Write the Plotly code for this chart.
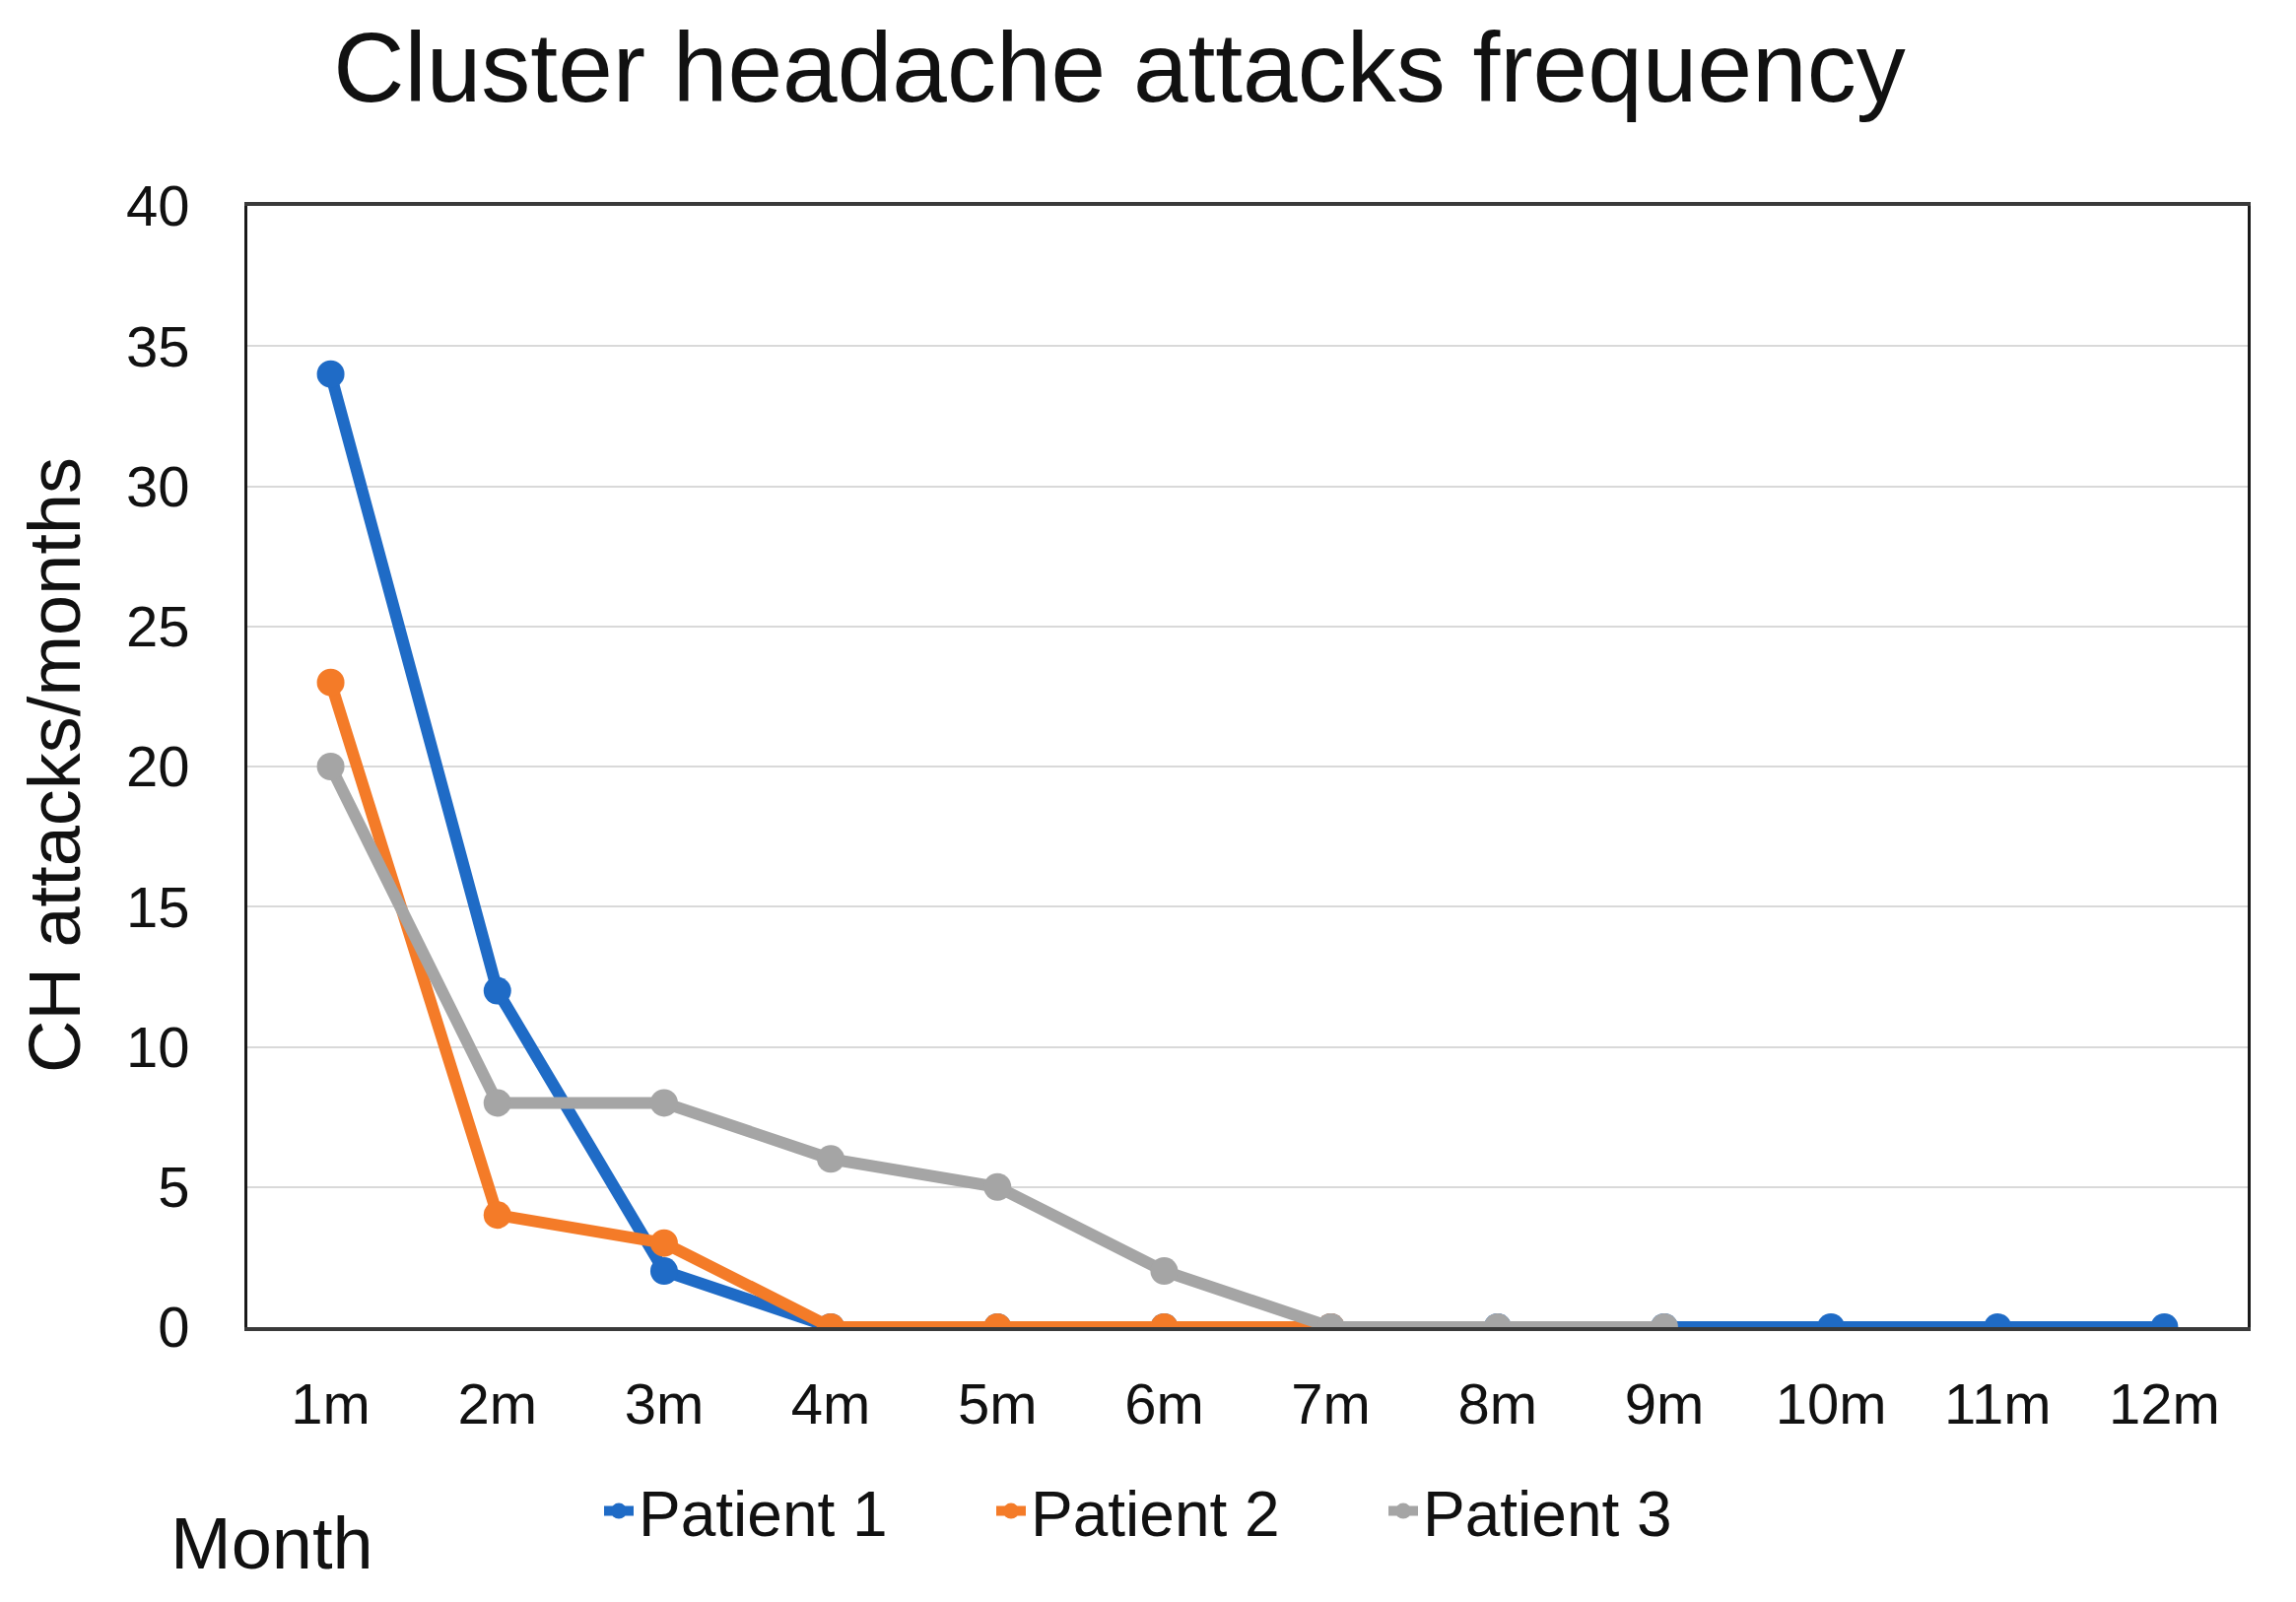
import plotly.graph_objects as go

months = ["1m", "2m", "3m", "4m", "5m", "6m", "7m", "8m", "9m", "10m", "11m", "12m"]
patient1 = [34, 12, 2, 0, 0, 0, 0, 0, 0, 0, 0, 0]
patient2 = [23, 4, 3, 0, 0, 0, 0]
patient3 = [20, 8, 8, 6, 5, 2, 0, 0, 0]
y_ticks = [0, 5, 10, 15, 20, 25, 30, 35, 40]

series = [
    ("Patient 1", patient1, "#1F6BC6"),
    ("Patient 2", patient2, "#F47B28"),
    ("Patient 3", patient3, "#A5A5A5"),
]

W, H = 2330, 1626
L, R, T, B = 243, 57, 201, 287
PW, PH = W - L - R, H - T - B
FONT = "Liberation Sans"

fig = go.Figure()
for name, vals, col in series:
    fig.add_trace(go.Scatter(
        x=months[:len(vals)], y=vals, name=name, mode="lines+markers",
        line=dict(color=col, width=12),
        marker=dict(color=col, size=28, symbol="circle"),
    ))

fig.update_layout(
    width=W, height=H,
    margin=dict(l=L, r=R, t=T, b=B, autoexpand=False),
    paper_bgcolor="white", plot_bgcolor="white",
    font=dict(family=FONT, color="#111111", size=58),
    title=dict(text="Cluster headache attacks frequency", x=1128 / W, xanchor="center",
               y=1 - 60 / H, yanchor="middle", font=dict(family=FONT, size=100, color="#111111")),
    showlegend=True,
    legend=dict(orientation="h", x=(600 - L) / PW, xanchor="left", y=(H - B - 1526) / PH, yanchor="middle",
                font=dict(family=FONT, size=64, color="#111111"),
                entrywidth=353, entrywidthmode="pixels", bgcolor="rgba(0,0,0,0)"),
    xaxis=dict(type="category", categoryorder="array", categoryarray=months,
               range=[-0.5, 11.5], showgrid=False, zeroline=False,
               showline=True, linecolor="#3a3a3a", linewidth=4, mirror=True,
               ticks="outside", ticklen=24, tickcolor="rgba(0,0,0,0)",
               tickfont=dict(family=FONT, size=58, color="#111111")),
    yaxis=dict(range=[0, 40], tickvals=y_ticks, showgrid=True, gridcolor="#d9d9d9", gridwidth=2,
               zeroline=False, showline=True, linecolor="#1a1a1a", linewidth=3, mirror=True,
               ticks="outside", ticklen=44, tickcolor="rgba(0,0,0,0)",
               tickfont=dict(family=FONT, size=58, color="#111111")),
    annotations=[
        dict(text="CH attacks/months", xref="paper", yref="paper",
             x=(47 - L) / PW, y=(H - B - 769) / PH, xanchor="center", yanchor="middle",
             textangle=-90, showarrow=False, font=dict(family=FONT, size=74, color="#111111")),
        dict(text="Month", xref="paper", yref="paper",
             x=(268 - L) / PW, y=(H - B - 1558) / PH,
             xanchor="center", yanchor="middle", showarrow=False,
             font=dict(family=FONT, size=74, color="#111111")),
    ],
)

fig.write_html("out.html")
